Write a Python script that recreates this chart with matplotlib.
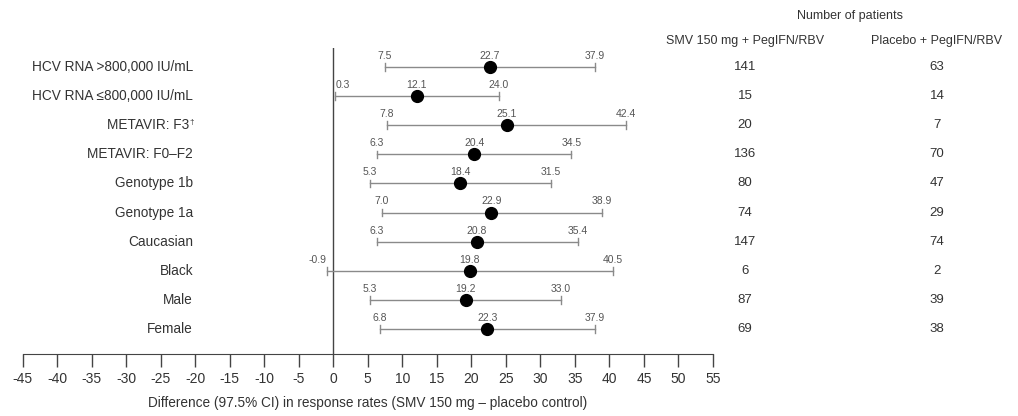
import matplotlib
matplotlib.use("Agg")
import matplotlib.pyplot as plt
from matplotlib.transforms import offset_copy

plt.rcParams['font.family'] = ['Liberation Sans', 'DejaVu Sans']

# Subgroups, top to bottom
subgroups = ["HCV RNA >800,000 IU/mL", "HCV RNA \u2264800,000 IU/mL", "METAVIR: F3",
             "METAVIR: F0\u2013F2", "Genotype 1b", "Genotype 1a", "Caucasian", "Black",
             "Male", "Female"]
footnote_row = 2  # METAVIR: F3 carries a dagger
diff = [22.7, 12.1, 25.1, 20.4, 18.4, 22.9, 20.8, 19.8, 19.2, 22.3]
ci_low = [7.5, 0.3, 7.8, 6.3, 5.3, 7.0, 6.3, -0.9, 5.3, 6.8]
ci_high = [37.9, 24.0, 42.4, 34.5, 31.5, 38.9, 35.4, 40.5, 33.0, 37.9]
n_smv = [141, 15, 20, 136, 80, 74, 147, 6, 87, 69]
n_placebo = [63, 14, 7, 70, 47, 29, 74, 2, 39, 38]
xticks = list(range(-45, 56, 5))

W, H = 1018, 416
fig = plt.figure(figsize=(W / 100, H / 100), dpi=100)

# axes in pixel coordinates: x -45..55 spans 22.5..713, rows from y=48 to 354
left, right, top, bottom = 22.5, 713, 48, 354
ax = fig.add_axes([left / W, 1 - bottom / H, (right - left) / W, (bottom - top) / H])

text_col = '#333333'
line_col = '#8a8a8a'
val_col = '#555555'
rows = list(range(len(subgroups)))

for i in rows:
    ax.plot([ci_low[i], ci_high[i]], [i, i], color=line_col, lw=1.0, zorder=2)
    ax.plot([ci_low[i], ci_low[i]], [i - 0.13, i + 0.13], color=line_col, lw=1.0, zorder=2)
    ax.plot([ci_high[i], ci_high[i]], [i - 0.13, i + 0.13], color=line_col, lw=1.0, zorder=2)
    ax.plot(diff[i], i, 'o', color='black', ms=8.5, zorder=3)

    # value labels above the bar
    ha_lo = 'center'
    if abs(ci_low[i]) < 2:
        ha_lo = 'left' if ci_low[i] >= 0 else 'right'
    ax.text(ci_low[i], i - 0.38, f"{ci_low[i]:.1f}", ha=ha_lo, va='center',
            fontsize=7.5, color=val_col)
    ax.text(diff[i], i - 0.38, f"{diff[i]:.1f}", ha='center', va='center',
            fontsize=7.5, color=val_col)
    ax.text(ci_high[i], i - 0.38, f"{ci_high[i]:.1f}", ha='center', va='center',
            fontsize=7.5, color=val_col)

    # subgroup label
    if i == footnote_row:
        tr = offset_copy(ax.transData, fig=fig, x=-4, y=0, units='dots')
        ax.text(-20.3, i, subgroups[i], ha='right', va='center', fontsize=9.8,
                color=text_col, transform=tr)
        tr2 = offset_copy(ax.transData, fig=fig, x=-4, y=3, units='dots')
        ax.text(-20.3, i, "\u2020", ha='left', va='center', fontsize=6,
                color=text_col, transform=tr2)
    else:
        ax.text(-20.3, i, subgroups[i], ha='right', va='center', fontsize=9.8, color=text_col)

    # patient numbers
    fig.text(745 / W, 1 - (67 + i * 29.1) / H, str(n_smv[i]), ha='center', va='center',
             fontsize=9.5, color=text_col)
    fig.text(937 / W, 1 - (67 + i * 29.1) / H, str(n_placebo[i]), ha='center', va='center',
             fontsize=9.5, color=text_col)

fig.text(850 / W, 1 - 16 / H, "Number of patients", ha='center', va='center',
         fontsize=9, color=text_col)
fig.text(745 / W, 1 - 41 / H, "SMV 150 mg + PegIFN/RBV", ha='center', va='center',
         fontsize=9, color=text_col)
fig.text(937 / W, 1 - 41 / H, "Placebo + PegIFN/RBV", ha='center', va='center',
         fontsize=9, color=text_col)

ax.axvline(0, color='#444444', lw=1.0, zorder=1)

ax.set_xlim(-45, 55)
ax.set_ylim(9 + 25 / 29.1, -19 / 29.1)
ax.set_xticks(xticks)
ax.set_xticklabels([str(t) for t in xticks])
ax.set_yticks([])
for s in ['top', 'right', 'left']:
    ax.spines[s].set_visible(False)
ax.spines['bottom'].set_color('#444444')
ax.tick_params(axis='x', direction='out', length=9, width=1, color='#444444',
               labelsize=10, labelcolor=text_col, pad=4)
ax.set_xlabel("Difference (97.5% CI) in response rates (SMV 150 mg \u2013 placebo control)",
              fontsize=9.8, color=text_col, labelpad=7)
ax.patch.set_alpha(0)

fig.savefig("out.png", dpi=100)
